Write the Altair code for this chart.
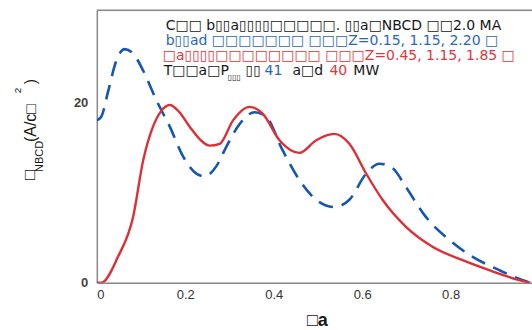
import altair as alt
import pandas as pd

# Red solid curve (narrow deposition)
rho_red = [0.0, 0.01, 0.048, 0.082, 0.105, 0.127, 0.145, 0.165, 0.185, 0.21, 0.235, 0.255, 0.278,
           0.308, 0.345, 0.375, 0.413, 0.458, 0.496, 0.537, 0.571, 0.609, 0.646, 0.699,
           0.759, 0.827, 0.887, 0.955, 0.98]
j_red = [0.0, 0.0, 2.9, 7.3, 13.6, 17.3, 19.0, 19.7, 19.0, 17.3, 15.8, 15.2, 15.4,
         18.0, 19.5, 18.75, 15.8, 14.4, 15.8, 16.5, 15.4, 12.1, 9.2, 6.2,
         4.0, 2.5, 1.4, 0.3, 0.0]

# Blue dashed curve (broad deposition)
rho_blue = [0.0, 0.01, 0.026, 0.044, 0.063, 0.082, 0.105, 0.135, 0.165, 0.195, 0.225, 0.244,
            0.27, 0.293, 0.323, 0.357, 0.383, 0.42, 0.458, 0.496, 0.537, 0.571, 0.609,
            0.639, 0.669, 0.699, 0.744, 0.797, 0.849, 0.91, 0.962, 0.98]
j_blue = [18.0, 18.4, 21.3, 24.6, 25.9, 25.4, 23.5, 20.2, 17.3, 14.0, 12.1, 11.8,
          12.9, 15.1, 17.6, 18.9, 18.4, 14.7, 11.4, 9.2, 8.4, 9.2, 12.1,
          13.2, 12.7, 10.6, 7.3, 4.75, 2.9, 1.4, 0.3, 0.0]

x_ticks = [0, 0.2, 0.4, 0.6, 0.8]
y_ticks = [0, 20]

B = "\u25a1"   # wide missing-glyph box
N = "\u25af"   # narrow missing-glyph box

legend_lines = [
    "C" + B * 2 + " b" + N * 2 + "a" + N * 4 + B * 5 + ". " + N * 2 + "a" + B + "NBCD " + B * 2 + "2.0 MA",
    "b" + N * 2 + "ad " + B * 7 + " " + B * 3 + "Z=0.15, 1.15, 2.20 " + B,
    B + "a" + N * 4 + B * 8 + " " + B * 3 + "Z=0.45, 1.15, 1.85 " + B,
]

RED = "#dc2f37"
BLUE = "#1456b0"
TBLUE = "#2a66bd"
TRED = "#e4333b"
TBLACK = "#161616"
FONT = "Liberation Sans"
LFONT = "DejaVu Sans"
LSIZE = 14

W, H = 436, 273

red_df = pd.DataFrame({"rho": rho_red, "j": j_red})
blue_df = pd.DataFrame({"rho": rho_blue, "j": j_blue})
one = pd.DataFrame({"k": [0]})

xs = alt.Scale(domain=[0, 0.984], nice=False)
ys = alt.Scale(domain=[0, 30.2], nice=False)

xax = alt.Axis(values=x_ticks, format=".1f", labelExpr="datum.value == 0 ? '0' : datum.label",
               title=None, grid=False, ticks=False, domainColor="#8a8a8a", domainWidth=1.5,
               labelFont=FONT, labelFontSize=13, labelColor="#333", labelPadding=6)
yax = alt.Axis(values=y_ticks, title=None, grid=False, ticks=False, domainColor="#8a8a8a",
               domainWidth=1.5, labelFont=FONT, labelFontSize=13, labelColor="#444",
               labelPadding=9, labelFontWeight="bold")

blue = alt.Chart(blue_df).mark_line(color=BLUE, strokeWidth=2.6, strokeDash=[15, 9],
                                    interpolate="monotone", clip=True).encode(
    x=alt.X("rho:Q", scale=xs, axis=xax),
    y=alt.Y("j:Q", scale=ys, axis=yax),
)
red = alt.Chart(red_df).mark_line(color=RED, strokeWidth=2.4, interpolate="monotone",
                                  clip=True).encode(
    x=alt.X("rho:Q", scale=xs),
    y=alt.Y("j:Q", scale=ys),
)

top = alt.Chart(one).mark_rule(color="#8a8a8a", strokeWidth=1.5).encode(
    x=alt.value(0), x2=alt.value(W), y=alt.value(0))


def txt(s, x, y, color=TBLACK, size=LSIZE, font=LFONT, **kw):
    return alt.Chart(one).mark_text(text=s, color=color, font=font, fontSize=size,
                                    align=kw.pop("align", "left"),
                                    baseline=kw.pop("baseline", "alphabetic"), **kw).encode(
        x=alt.value(x - 97), y=alt.value(y - 10))


labels = [
    txt(legend_lines[0], 166, 30),
    txt(legend_lines[1], 166, 45, TBLUE),
    txt(legend_lines[2], 163, 60, TRED),
    # line 4 (mixed colours)
    txt("T" + B * 2 + "a" + B + "P", 164, 75),
    txt(N * 3, 228, 80, size=8),
    txt(N * 2, 246, 75),
    txt("41", 265, 75, TBLUE),
    txt("a" + B + "d", 293, 75),
    txt("40", 330, 75, TRED),
    txt("MW", 354, 75),
    # x title
    txt(B + "a", 318, 326, size=18, align="center", fontWeight="bold", font=FONT),
    # y title (rotated)
    txt(B, 35, 180, size=17, angle=270, font=FONT),
    txt("NBCD", 43, 172, size=11, angle=270, font=FONT),
    txt("(A/c" + B, 36, 142, size=16, angle=270, font=FONT),
    txt("2", 21, 93, size=10, angle=270, font=FONT),
    txt(")", 36, 84, size=16, angle=270, font=FONT),
]

chart = alt.layer(top, blue, red, *labels).properties(
    width=W, height=H,
    autosize=alt.AutoSizeParams(type="none"),
    padding={"left": 97, "top": 10, "right": 0, "bottom": 47},
).configure_view(stroke=None).configure(background="white")

chart.save("out.html", embed_options={"renderer": "svg", "actions": False})
